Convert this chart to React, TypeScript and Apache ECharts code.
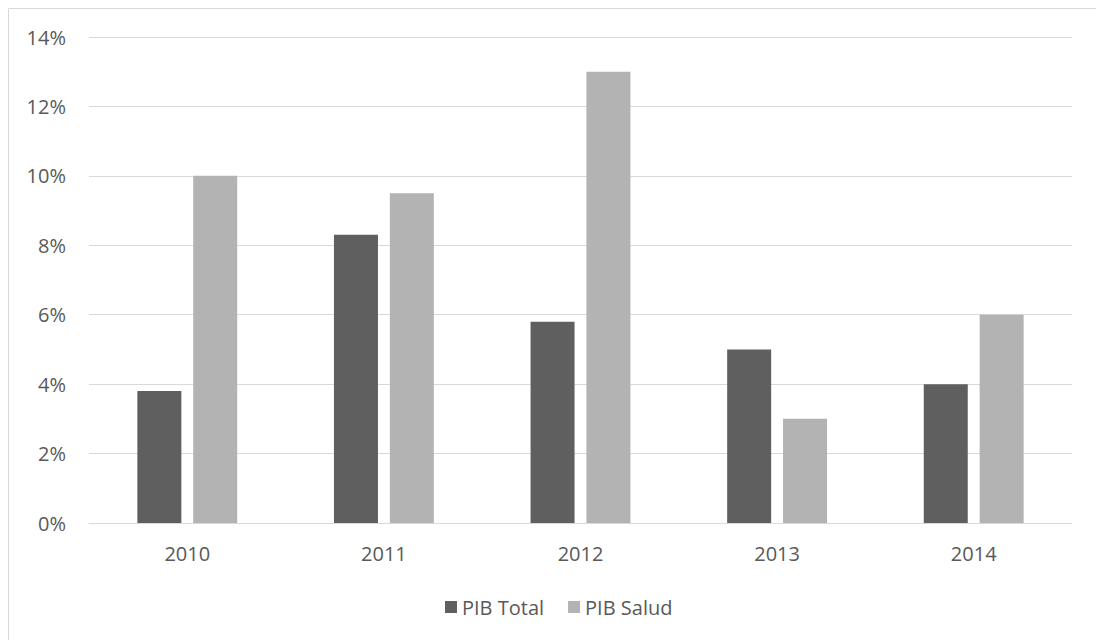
import React, { useEffect, useRef } from "react";
import * as echarts from "echarts";

const categories = ["2010", "2011", "2012", "2013", "2014"];
const pibTotal = [3.8, 8.3, 5.8, 5.0, 4.0];
const pibSalud = [10.0, 9.5, 13.0, 3.0, 6.0];
const seriesNames = ["PIB Total", "PIB Salud"];

const FONT = "'Open Sans', sans-serif";
const TEXT = "#595959";
const BORDER = "#d9d9d9";

export default function App() {
  const ref = useRef<HTMLDivElement>(null);
  useEffect(() => {
    document.documentElement.style.overflow = "hidden";
    document.body.style.overflow = "hidden";
    if (!ref.current) return;
    const chart = echarts.init(ref.current, undefined, { renderer: "svg" });
    chart.setOption({
      animation: false,
      backgroundColor: "#ffffff",
      textStyle: { fontFamily: FONT },
      grid: { left: 81, right: 24, top: 29, bottom: 117, containLabel: false },
      graphic: [
        {
          type: "line",
          shape: { x1: 0.5, y1: 0.5, x2: 1088, y2: 0.5 },
          style: { stroke: BORDER, lineWidth: 1 },
          silent: true,
        },
        {
          type: "line",
          shape: { x1: 0.5, y1: 0.5, x2: 0.5, y2: 632 },
          style: { stroke: BORDER, lineWidth: 1 },
          silent: true,
        },
      ],
      legend: {
        data: seriesNames,
        left: 432,
        top: 584,
        itemWidth: 12,
        itemHeight: 12,
        itemGap: 24,
        icon: "rect",
        textStyle: { color: TEXT, fontSize: 20, fontFamily: FONT },
      },
      xAxis: {
        type: "category",
        data: categories,
        axisLine: { lineStyle: { color: BORDER, width: 1 } },
        axisTick: { show: false },
        axisLabel: { color: TEXT, fontSize: 20, fontFamily: FONT, margin: 20 },
      },
      yAxis: {
        type: "value",
        min: 0,
        max: 14,
        interval: 2,
        axisLine: { show: false },
        axisTick: { show: false },
        splitLine: { lineStyle: { color: BORDER, width: 1 } },
        axisLabel: {
          color: TEXT,
          fontSize: 20,
          fontFamily: FONT,
          margin: 23,
          formatter: (v: number) => `${v}%`,
        },
      },
      series: [
        {
          name: seriesNames[0],
          type: "bar",
          data: pibTotal,
          barWidth: 44,
          barGap: "27%",
          itemStyle: { color: "#5f5f5f" },
        },
        {
          name: seriesNames[1],
          type: "bar",
          data: pibSalud,
          barWidth: 44,
          barGap: "27%",
          itemStyle: { color: "#b3b3b3" },
        },
      ],
    });
    return () => chart.dispose();
  }, []);
  return (
    <div
      ref={ref}
      style={{
        position: "fixed",
        left: 8,
        top: 8,
        width: 1088,
        height: 632,
      }}
    />
  );
}
